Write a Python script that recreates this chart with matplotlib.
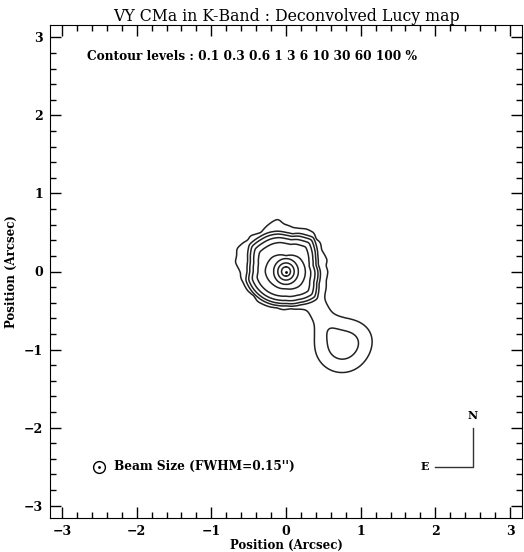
import numpy as np
import matplotlib.pyplot as plt
from matplotlib.ticker import MultipleLocator

# contour levels, percent of peak
levels_pct = [0.1, 0.3, 0.6, 1, 3, 6, 10, 30, 60, 100]

# main blob: radius (arcsec) of the 0.1 % contour vs angle (deg, ccw from +x)
outer_angle = [0, 8, 15, 22, 30, 39, 46, 53, 63, 72, 80, 87, 93, 99, 104, 113, 124,
               131, 136, 142, 147, 156, 163, 170, 176, 181, 188, 194, 205, 216, 225,
               234, 245, 255, 265, 277, 290, 301, 312, 323, 337, 348]
outer_radius = [0.56, 0.54, 0.57, 0.56, 0.55, 0.59, 0.58, 0.62, 0.61, 0.58, 0.57, 0.59,
                0.61, 0.68, 0.67, 0.64, 0.60, 0.63, 0.66, 0.65, 0.68, 0.72, 0.69, 0.69,
                0.64, 0.61, 0.61, 0.59, 0.57, 0.53, 0.54, 0.52, 0.50, 0.48, 0.49, 0.48,
                0.51, 0.54, 0.58, 0.60, 0.58, 0.55]
# 0.3 % contour (outer edge of the bunched group)
group_angle = [0, 12, 25, 38, 50, 60, 70, 80, 90, 103, 115, 130, 145, 165, 180, 192,
               205, 222, 240, 255, 270, 295, 320, 340]
group_radius = [0.46, 0.44, 0.47, 0.52, 0.57, 0.54, 0.52, 0.49, 0.50, 0.53, 0.55, 0.57,
                0.60, 0.53, 0.52, 0.55, 0.53, 0.50, 0.47, 0.45, 0.44, 0.47, 0.54, 0.47]
group_scale = [0.72, 0.84, 0.93, 1.0]          # 3, 1, 0.6, 0.3 %
# 6 % contour
ring6_angle = [0, 45, 90, 135, 180, 225, 270, 315]
ring6_radius = [0.26, 0.25, 0.20, 0.26, 0.28, 0.24, 0.22, 0.26]
inner_radius = [0.0, 0.06, 0.11, 0.165]        # 100, 60, 30, 10 %
anchor_pct = [100, 60, 30, 10, 6, 3, 1, 0.6, 0.3, 0.1, 0.003]

# SE tail clumps: x, y (arcsec), peak (%), sigma x, sigma y
tail_x = [0.75, 0.45, 0.56, 1.0]
tail_y = [-0.95, -0.52, -0.72, -0.85]
tail_amp = [0.43, 0.12, 0.12, 0.06]
tail_sx = [0.21, 0.10, 0.11, 0.14]
tail_sy = [0.20, 0.10, 0.11, 0.14]


def smooth_ring(angles, radii, th, win=5):
    fine = np.arange(360)
    r = np.interp(fine, angles, radii, period=360)
    h = win // 2
    r = np.convolve(np.r_[r[-h:], r, r[:h]], np.ones(win) / win, mode="valid")
    return np.interp(th, fine, r, period=360)


g = np.linspace(-1.6, 1.6, 641)
X, Y = np.meshgrid(g, g)
R = np.hypot(X, Y)
TH = np.degrees(np.arctan2(Y, X)) % 360
r_out = smooth_ring(outer_angle, outer_radius, TH)
r_grp = smooth_ring(group_angle, group_radius, TH)
r_6 = smooth_ring(ring6_angle, ring6_radius, TH, win=15)

anchors = [np.full_like(R, r) for r in inner_radius] + [r_6]
anchors += [r_grp * s for s in group_scale]
anchors += [r_out, r_out + 0.4]
logs = np.log10(anchor_pct)

logM = np.full_like(R, logs[-1])
for k in range(len(anchors) - 1):
    a0, a1 = anchors[k], anchors[k + 1]
    m = (R >= a0) & (R < a1)
    t = (R - a0) / (a1 - a0)
    logM[m] = (logs[k] + t * (logs[k + 1] - logs[k]))[m]

field = 10 ** logM
for x0, y0, a, sx, sy in zip(tail_x, tail_y, tail_amp, tail_sx, tail_sy):
    field += a * np.exp(-0.5 * (((X - x0) / sx) ** 2 + ((Y - y0) / sy) ** 2))

serif = "DejaVu Serif"
fig = plt.figure(figsize=(5.24, 5.52), dpi=100)
ax = fig.add_axes([50 / 524, 34 / 552, 472 / 524, 493 / 552])

ax.contour(X, Y, field, levels=levels_pct[:-1], colors="#222222", linewidths=1.1)
iy, ix = np.unravel_index(np.argmax(field), field.shape)
ax.plot(g[ix], g[iy], ".", color="black", markersize=2)

ax.set_xlim(-3.16, 3.16)
ax.set_ylim(-3.16, 3.16)
ax.xaxis.set_major_locator(MultipleLocator(1))
ax.yaxis.set_major_locator(MultipleLocator(1))
ax.xaxis.set_minor_locator(MultipleLocator(0.2))
ax.yaxis.set_minor_locator(MultipleLocator(0.2))
ax.tick_params(which="both", direction="in", top=True, right=True, width=1)
ax.tick_params(which="major", length=8, pad=5)
ax.tick_params(which="minor", length=4)
for lab in ax.get_xticklabels() + ax.get_yticklabels():
    lab.set_fontfamily(serif)
    lab.set_fontweight("bold")
    lab.set_fontsize(9)

ax.set_title("VY CMa in K-Band : Deconvolved Lucy map", family=serif, fontsize=11.3, pad=3)
ax.set_xlabel("Position (Arcsec)", family=serif, fontweight="bold", fontsize=8.5, labelpad=1)
ax.set_ylabel("Position (Arcsec)", family=serif, fontweight="bold", fontsize=8.5, labelpad=4)

lv = " ".join(f"{v:g}" for v in levels_pct)
ax.text(-2.66, 2.76, f"Contour levels : {lv} %", family=serif, fontweight="bold",
        fontsize=8.7, va="center")

# beam
beam_x, beam_y = -2.5, -2.5
ax.plot(beam_x, beam_y, "o", mfc="none", mec="black", markersize=8.5, mew=1)
ax.plot(beam_x, beam_y, ".", color="black", markersize=2)
ax.text(beam_x + 0.2, beam_y, "Beam Size (FWHM=0.15'')", family=serif,
        fontweight="bold", fontsize=8.7, va="center")

# orientation
ax.plot([2.5, 2.5, 2.0], [-2.0, -2.5, -2.5], color="#333333", lw=1)
ax.text(2.5, -1.85, "N", family=serif, fontweight="bold", fontsize=8, ha="center", va="center")
ax.text(1.92, -2.5, "E", family=serif, fontweight="bold", fontsize=8, ha="right", va="center")

fig.savefig("out.png", dpi=100)
